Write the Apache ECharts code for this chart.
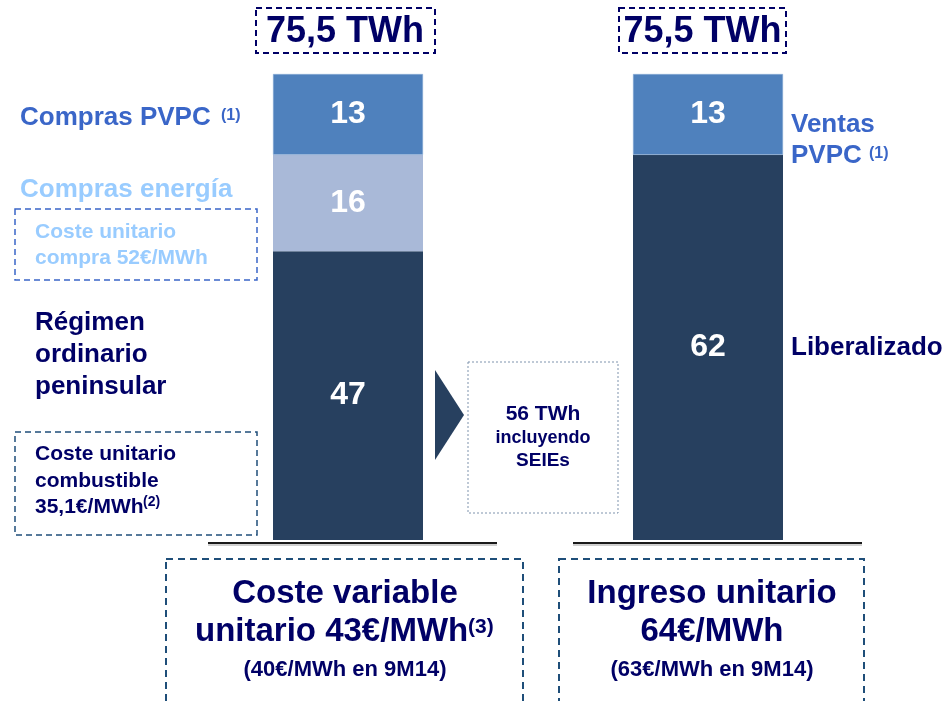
<!DOCTYPE html>
<html><head><meta charset="utf-8">
<script src="https://cdn.jsdelivr.net/npm/echarts@6/dist/echarts.min.js"></script>
<style>html,body{margin:0;padding:0;background:#fff}#c{width:949px;height:701px}</style>
</head><body><div id="c"></div>
<script>
// ---- data (segment sizes; labels show rounded values) ----
const categories = ['Costes', 'Ingresos'];
const regimenValues = [46.8, 62.4];   // Régimen ordinario peninsular / Liberalizado
const energiaValues = [15.6, null];   // Compras energía
const pvpcValues = [13.1, 13.1];      // Compras PVPC / Ventas PVPC
const totalLabels = ['75,5 TWh', '75,5 TWh'];
const axisMax = 75.5;

const FF = '"Liberation Sans", Arial, sans-serif';
const NAVY = '#000066';
const MID = '#3a66c8';
const LIGHT = '#99ccff';
const DASHBOX = '#1f4e79';

function txt(x, y, text, size, color, align, extra) {
  return {
    type: 'text', x: x, y: y, silent: true,
    style: Object.assign({
      text: text, fill: color, font: 'bold ' + size + 'px ' + FF,
      textAlign: align || 'left', textVerticalAlign: 'middle'
    }, extra || {})
  };
}
function dashRect(x, y, w, h, color, dash, lw) {
  return { type: 'rect', silent: true, shape: { x: x, y: y, width: w, height: h },
    style: { fill: 'none', stroke: color, lineWidth: lw || 1.5, lineDash: dash } };
}
function baseline(x1, x2, y) {
  return [
    { type: 'line', silent: true, shape: { x1: x1, y1: y + 2, x2: x2, y2: y + 2 }, style: { stroke: '#a0a0a0', lineWidth: 1 } },
    { type: 'line', silent: true, shape: { x1: x1, y1: y, x2: x2, y2: y }, style: { stroke: '#1a1a1a', lineWidth: 2 } }
  ];
}

const labelStyle = { show: true, position: 'inside', color: '#fff', fontSize: 32, fontWeight: 'bold', fontFamily: FF,
  formatter: p => String(Math.round(p.value)) };

const chart = echarts.init(document.getElementById('c'), null, { renderer: 'canvas' });
chart.setOption({
  backgroundColor: '#fff',
  animation: false,
  grid: { left: 168, width: 720, top: 74, height: 466 },
  xAxis: { type: 'category', data: categories, show: false },
  yAxis: { type: 'value', min: 0, max: axisMax, show: false },
  series: [
    { name: 'Régimen', type: 'bar', stack: 't', barWidth: 150, data: regimenValues,
      itemStyle: { color: '#27405f' }, label: labelStyle },
    { name: 'Compras energía', type: 'bar', stack: 't', barWidth: 150, data: energiaValues,
      itemStyle: { color: '#a9b9d8' }, label: labelStyle },
    { name: 'PVPC', type: 'bar', stack: 't', barWidth: 150, data: pvpcValues,
      itemStyle: { color: '#4f81bd', borderColor: '#8fb0d8', borderWidth: 0.5 }, label: labelStyle }
  ],
  graphic: [
    // top totals
    dashRect(256, 8, 179, 45, NAVY, [6, 4], 2),
    txt(345, 32, totalLabels[0], 36, NAVY, 'center'),
    dashRect(619, 8, 167, 45, NAVY, [6, 4], 2),
    txt(702.5, 32, totalLabels[1], 36, NAVY, 'center'),
    // left labels
    txt(20, 118, 'Compras PVPC', 26, MID, 'left'),
    txt(221, 116, '(1)', 16, MID, 'left'),
    txt(20, 190, 'Compras energía', 26, LIGHT, 'left'),
    dashRect(15, 209, 242, 71, MID, [6, 4], 1.5),
    txt(35, 245, 'Coste unitario\ncompra 52€/MWh', 21, LIGHT, 'left', { lineHeight: 26 }),
    txt(35, 355, 'Régimen\nordinario\npeninsular', 26, NAVY, 'left', { lineHeight: 32 }),
    dashRect(15, 432, 242, 103, DASHBOX, [6, 4], 1.5),
    txt(35, 481, 'Coste unitario\ncombustible\n35,1€/MWh', 21, NAVY, 'left', { lineHeight: 26.5 }),
    txt(143, 502, '(2)', 14, NAVY, 'left'),
    // arrow + box
    { type: 'polygon', silent: true, shape: { points: [[435, 370], [464, 415], [435, 460]] }, style: { fill: '#27405f' } },
    dashRect(468, 362, 150, 151, '#7f93ad', [2, 2], 1),
    txt(543, 414, '56 TWh', 21, NAVY, 'center'),
    txt(543, 438, 'incluyendo', 18, NAVY, 'center'),
    txt(543, 461, 'SEIEs', 19, NAVY, 'center'),
    // right labels
    txt(791, 125, 'Ventas', 26, MID, 'left'),
    txt(791, 156, 'PVPC', 26, MID, 'left'),
    txt(869, 154, '(1)', 16, MID, 'left'),
    txt(791, 348, 'Liberalizado', 26, NAVY, 'left'),
    // baselines
    ...baseline(208, 497, 543),
    ...baseline(573, 862, 543),
    // bottom boxes
    dashRect(166, 559, 357, 170, DASHBOX, [7, 5], 2),
    txt(345, 594, 'Coste variable', 33, NAVY, 'center'),
    txt(195, 632, 'unitario 43€/MWh', 33, NAVY, 'left'),
    txt(468, 627, '(3)', 21, NAVY, 'left'),
    txt(345, 670, '(40€/MWh en 9M14)', 22, NAVY, 'center'),
    dashRect(559, 559, 305, 170, DASHBOX, [7, 5], 2),
    txt(712, 594, 'Ingreso unitario', 33, NAVY, 'center'),
    txt(712, 632, '64€/MWh', 33, NAVY, 'center'),
    txt(712, 670, '(63€/MWh en 9M14)', 22, NAVY, 'center')
  ]
});
</script>
</body></html>
